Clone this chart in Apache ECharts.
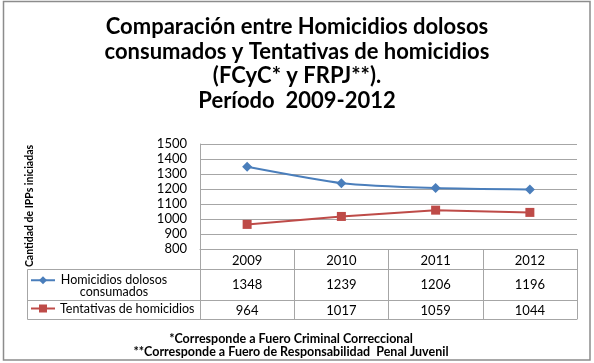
<!DOCTYPE html>
<html><head><meta charset="utf-8">
<script src="https://cdn.jsdelivr.net/npm/echarts@6/dist/echarts.min.js"></script>
<style>html,body{margin:0;padding:0;background:#fff}#c{width:594px;height:363px}</style>
</head><body><div id="c"></div>
<script>
const years = ['2009','2010','2011','2012'];
const homicidios = [1348, 1239, 1206, 1196];
const tentativas = [964, 1017, 1059, 1044];
const yTicks = [800, 900, 1000, 1100, 1200, 1300, 1400, 1500];
const seriesNames = ['Homicidios dolosos consumados', 'Tentativas de homicidios'];
const titleText = 'Comparación entre Homicidios dolosos\nconsumados y Tentativas de homicidios\n(FCyC* y FRPJ**).\nPeríodo  2009-2012';
const footText = '*Corresponde a Fuero Criminal Correccional\n**Corresponde a Fuero de Responsabilidad  Penal Juvenil';
const yName = 'Cantidad de IPPs iniciadas';

const FONT = 'Lato, "Open Sans", sans-serif';
const GRIDC = '#a6a6a6';
const chart = echarts.init(document.getElementById('c'));
const L = 200, R = 577, T = 144, B = 249;
chart.setOption({
  animation: false,
  textStyle: {fontFamily: FONT},
  title: [
    {text: titleText, left: 'center', top: 10,
     textStyle: {fontFamily: FONT, fontSize: 22, fontWeight: 'bold', color: '#000', lineHeight: 24.5}},
    {text: footText, left: 286, textAlign: 'center', top: 327,
     textStyle: {fontFamily: FONT, fontSize: 12.5, fontWeight: 'bold', color: '#000', lineHeight: 13}}
  ],
  grid: {left: L, right: 594 - R, top: T, bottom: 363 - B},
  legend: [
    {data: [seriesNames[0]], left: 30, top: 263, padding: 0, itemWidth: 24, itemHeight: 10,
     formatter: () => '{a|Homicidios dolosos}\n{a|consumados}',
     textStyle: {fontFamily: FONT, fontSize: 12.5, lineHeight: 11.5, color: '#000', padding: [11.5, 0, 0, 0],
       rich: {a: {width: 108, align: 'center', fontSize: 12.5, lineHeight: 11.5, fontFamily: FONT}}}},
    {data: [seriesNames[1]], left: 30, top: 302, padding: 0, itemWidth: 24, itemHeight: 10,
     textStyle: {fontFamily: FONT, fontSize: 12.5, color: '#000'}}
  ],
  xAxis: [
    {type: 'category', data: years, position: 'bottom',
     axisLine: {lineStyle: {color: GRIDC}},
     axisTick: {show: true, interval: 0, length: 70, lineStyle: {color: GRIDC}},
     axisLabel: {margin: 5, fontSize: 13, color: '#000', fontFamily: FONT}},
    {type: 'category', data: years, position: 'bottom', offset: 20,
     axisLine: {show: true, lineStyle: {color: GRIDC}}, axisTick: {show: false},
     axisLabel: {margin: 9, fontSize: 13, color: '#000', fontFamily: FONT, formatter: (v, i) => String(homicidios[i])}},
    {type: 'category', data: years, position: 'bottom', offset: 51,
     axisLine: {show: true, lineStyle: {color: GRIDC}}, axisTick: {show: false},
     axisLabel: {margin: 4, fontSize: 13, color: '#000', fontFamily: FONT, formatter: (v, i) => String(tentativas[i])}},
    {type: 'category', data: years, position: 'bottom', offset: 70,
     axisLine: {show: true, lineStyle: {color: GRIDC}}, axisTick: {show: false},
     axisLabel: {show: false}}
  ],
  yAxis: {type: 'value', min: yTicks[0], max: yTicks[yTicks.length - 1], interval: 100,
    axisLine: {show: true, lineStyle: {color: GRIDC}}, axisTick: {show: false},
    splitLine: {lineStyle: {color: GRIDC}},
    axisLabel: {margin: 13, fontSize: 13, color: '#000', fontFamily: FONT, formatter: v => String(v)}},
  graphic: [
    {type: 'rect', shape: {x: 3.5, y: 1.5, width: 586.5, height: 358.5}, style: {fill: null, stroke: '#8c8c8c', lineWidth: 1.5}, silent: true},
    {type: 'line', shape: {x1: 27.5, y1: 269.5, x2: L, y2: 269.5}, style: {stroke: GRIDC, lineWidth: 1}},
    {type: 'line', shape: {x1: 27.5, y1: 300.5, x2: L, y2: 300.5}, style: {stroke: GRIDC, lineWidth: 1}},
    {type: 'line', shape: {x1: 27.5, y1: 319.5, x2: L, y2: 319.5}, style: {stroke: GRIDC, lineWidth: 1}},
    {type: 'line', shape: {x1: 27.5, y1: 269.5, x2: 27.5, y2: 319.5}, style: {stroke: GRIDC, lineWidth: 1}},
    {type: 'text', x: 30, y: 206, rotation: Math.PI / 2,
     style: {text: yName, fontFamily: FONT, fontSize: 10.5, fontWeight: 'bold', fill: '#000', align: 'center', verticalAlign: 'middle'}}
  ],
  series: [
    {name: seriesNames[0], type: 'line', data: homicidios, smooth: 0.2,
     symbol: 'diamond', symbolSize: 10, itemStyle: {color: '#4A7EBB'}, lineStyle: {color: '#4A7EBB', width: 2}},
    {name: seriesNames[1], type: 'line', data: tentativas,
     symbol: 'rect', symbolSize: 9, itemStyle: {color: '#BE4B48'}, lineStyle: {color: '#BE4B48', width: 2}}
  ]
});
</script></body></html>
